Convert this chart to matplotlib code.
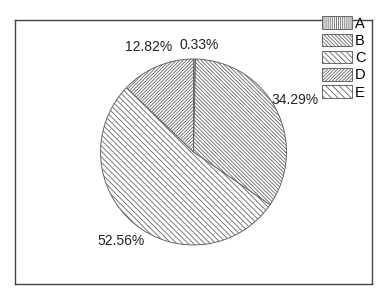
import numpy as np
import matplotlib.pyplot as plt

# slice data, clockwise from the top
labels = ['A', 'B', 'C', 'D', 'E']
values = [0.33, 34.29, 52.56, 12.82, 0.0]
hatches = ['|' * 8, '\\' * 9, '\\' * 6, '/' * 10, '\\' * 5]

plt.rcParams['hatch.linewidth'] = 0.6
plt.rcParams['hatch.color'] = '#909090'

fig = plt.figure(figsize=(3.89, 3.03), dpi=100)
ax = fig.add_axes([0.0386, 0.0627, 0.9177, 0.8713])

def pct(p):
    return '' if p < 0.01 else '%.2f%%' % p

wedges, texts, autotexts = ax.pie(values, startangle=90, counterclock=False,
                                  autopct=pct, pctdistance=1.23,
                                  colors=['white'] * len(values),
                                  wedgeprops=dict(edgecolor='#666666', linewidth=0.7),
                                  textprops=dict(fontsize=10, family='Liberation Sans', color='#222222'))
for w, h in zip(wedges, hatches):
    w.set_hatch(h)
# nudge the tiny slice's label like in the original
autotexts[0].set_x(autotexts[0].get_position()[0] + 0.05)
autotexts[0].set_y(autotexts[0].get_position()[1] - 0.08)

ax.set_xlim(-1.92, 1.92)
ax.set_ylim(-1.42, 1.42)
ax.set_frame_on(True)
ax.set_xticks([])
ax.set_yticks([])
for s in ax.spines.values():
    s.set_visible(True)
    s.set_color('#444444')
    s.set_linewidth(1.0)

leg = ax.legend(wedges, labels, loc='upper right', bbox_to_anchor=(0.963, 0.975),
                bbox_transform=fig.transFigure, frameon=False,
                prop=dict(family='Liberation Sans', size=10.5),
                handlelength=2.0, handleheight=0.95, labelspacing=0.2,
                handletextpad=0.25, borderpad=0.1)

fig.savefig('out.png', dpi=100)
